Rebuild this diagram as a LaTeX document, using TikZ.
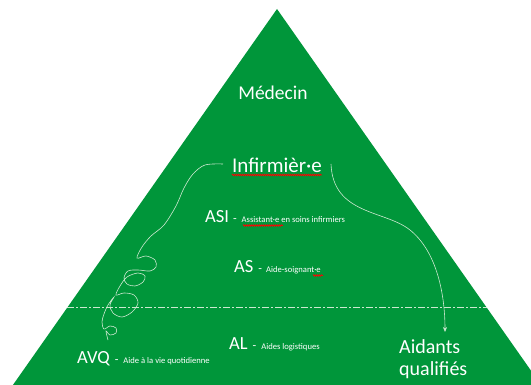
\documentclass[tikz,border=0pt]{standalone}
\usepackage{fontspec}
\setmainfont{Carlito}
\usetikzlibrary{arrows.meta,decorations.pathmorphing}

\definecolor{pyramid}{RGB}{0,150,58}
\definecolor{chalk}{RGB}{205,232,208}

\newcommand{\bigab}{\fontsize{18.5}{20}\selectfont}
\newcommand{\tiret}{\fontsize{12}{14}\selectfont}
\newcommand{\petit}{\fontsize{8.6}{10}\selectfont}

\begin{document}
\begin{tikzpicture}[x=1pt,y=-1pt,
		grade/.style={text=white,inner sep=0,anchor=base west},
		trace/.style={color=chalk,line width=0.6},
		spell/.style={color=red,line width=0.7,decorate,decoration={snake,amplitude=0.7pt,segment length=2pt}}]

		%------------------------------------------------------
		\useasboundingbox (0,0) rectangle (531,385);
		\clip (0,0) rectangle (531,385);
		\fill[white] (0,0) rectangle (531,385);
		\fill[color=pyramid] (277,9) -- (546,392) -- (8,392) -- cycle;
		\draw[color=chalk,line width=0.5,dash pattern=on 7pt off 2pt on 2pt off 2pt] (67,307) -- (487,307);
		%------------------------------------------------------


		%------------------------------------------------------
		\node[grade,anchor=base,font=\fontsize{19.5}{22}\selectfont] (medecin) at (273,100) {Médecin};
		\node[grade,anchor=base,font=\fontsize{21}{24}\selectfont] (infirm) at (277,173) {Infirmièr·e};
		%------------------------------------------------------


		%------------------------------------------------------
		\node[grade] (asi) at (205,223) {\bigab ASI\hspace{4pt}\tiret-\hspace{5pt}\petit Assistant·e en soins infirmiers};
		\node[grade] (as) at (234,273) {\bigab AS\hspace{5pt}\tiret-\hspace{4pt}\petit Aide-soignant·e};
		\node[grade] (al) at (229,349) {\bigab AL\hspace{5pt}\tiret-\hspace{5pt}\petit Aides logistiques};
		\node[grade] (avq) at (77,363) {\bigab AVQ\hspace{5pt}\tiret-\hspace{5pt}\petit Aide à la vie quotidienne};
		\node[grade,align=left,font=\fontsize{20}{22}\selectfont] (aidants) at (399,375) {Aidants\\qualifiés};
		%------------------------------------------------------


		%------------------------------------------------------
		\draw[spell] ([yshift=-2pt]infirm.base west) -- ([yshift=-2pt]infirm.base east);
		\draw[spell] (243,225.5) -- (283,225.5);
		\draw[spell] (313,275.5) -- (323,275.5);
		%------------------------------------------------------


		%------------------------------------------------------
		\coordinate (depart) at (331,164);
		\coordinate (arrivee) at (445,332);
		\draw[trace,-{Stealth[length=5pt,width=4pt]}] (depart) .. controls (333,215) and (385,210) .. (410,230) .. controls (435,250) and (445,290) .. (arrivee);

		\coordinate (gribouille) at (223,164);
		\draw[trace] plot[smooth,tension=0.55] coordinates {(gribouille) (205,165) (193,174) (184,188) (176,206) (164,225) (151,236) (142,247) (137,258) (146,256) (155,260) (156,267) (150,271) (138,270) (128,271) (124,278) (127,284) (135,286) (143,282) (145,276) (138,273) (127,277) (120,286) (116,295) (124,293) (134,295) (138,303) (132,312) (122,317) (113,313) (110,305) (114,297) (108,305) (104,314) (102,322) (104,329) (110,326) (116,328) (116,333) (110,335) (106,331) (108,340)};
		%------------------------------------------------------

	\end{tikzpicture}
\end{document}
